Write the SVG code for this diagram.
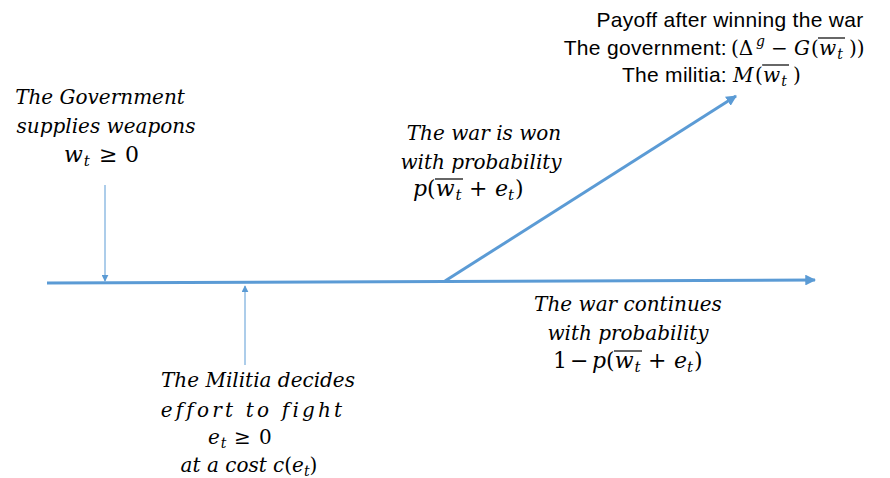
<svg xmlns="http://www.w3.org/2000/svg" width="890" height="478" viewBox="0 0 890 478">
<style>
.m{font-family:"DejaVu Serif","Liberation Serif",serif;font-style:italic;font-size:20px;fill:#000}
.x{font-size:22px}
.u{font-style:normal}
.sb{font-size:14px}
.sc{font-size:15px}
.s{font-family:"Liberation Sans",Arial,sans-serif;font-size:21px;letter-spacing:0.3px;fill:#000}
.ln{stroke:#5B9BD5;fill:none}
.ov{stroke:#000;stroke-width:1.2}
</style>
<defs>
<marker id="big" viewBox="0 0 10 10" refX="9" refY="5" markerWidth="3.6" markerHeight="3.6" orient="auto" markerUnits="strokeWidth">
<path d="M0,0 L10,5 L0,10 z" fill="#5B9BD5"/>
</marker>
<marker id="small" viewBox="0 0 10 10" refX="9" refY="5" markerWidth="7" markerHeight="7" orient="auto" markerUnits="strokeWidth">
<path d="M0,0 L10,5 L0,10 z" fill="#5B9BD5"/>
</marker>
</defs>
<g id="connectors">
<line class="ln" x1="47" y1="283" x2="815" y2="280" stroke-width="3" marker-end="url(#big)"/>
<line class="ln" x1="445" y1="281" x2="736" y2="96" stroke-width="3" marker-end="url(#big)"/>
<line class="ln" x1="105" y1="185" x2="105" y2="281" stroke-width="1" marker-end="url(#small)"/>
<line class="ln" x1="245" y1="365" x2="245" y2="286" stroke-width="1" marker-end="url(#small)"/>
</g>
<g id="payoff">
<text class="s" x="730" y="27" text-anchor="middle">Payoff after winning the war</text>
<text class="s" x="727" y="55" text-anchor="end">The government:</text>
<text class="m" y="55" font-size="21"><tspan class="u" x="731">(Δ</tspan><tspan class="sb" x="756" y="46">g</tspan><tspan class="u" x="771" y="55">−</tspan><tspan x="794">G</tspan><tspan class="u" x="811">(</tspan><tspan x="819">w</tspan><tspan class="sb" dx="1" dy="4">t</tspan><tspan class="u" x="849" y="55">))</tspan></text>
<line class="ov" x1="818" y1="38" x2="845" y2="38"/>
<text class="s" x="727" y="82" text-anchor="end">The militia:</text>
<text class="m" y="82" font-size="21"><tspan x="733">M</tspan><tspan class="u" x="755">(</tspan><tspan x="763">w</tspan><tspan class="sb" dx="1" dy="4">t</tspan><tspan class="u" x="793" y="82">)</tspan></text>
<line class="ov" x1="762" y1="65" x2="789" y2="65"/>
</g>
<g id="government">
<text class="m" x="100" y="104" text-anchor="middle">The Government</text>
<text class="m" x="106" y="133" text-anchor="middle">supplies weapons</text>
<text class="m x" y="162"><tspan x="64">w</tspan><tspan class="sc" dx="1" dy="4">t</tspan><tspan class="u" x="99" y="162">≥</tspan><tspan class="u" x="125">0</tspan></text>
</g>
<g id="won">
<text class="m" x="484" y="140" text-anchor="middle">The war is won</text>
<text class="m" x="481" y="169" text-anchor="middle">with probability</text>
<text class="m x" y="196"><tspan x="413">p</tspan><tspan class="u">(</tspan><tspan>w</tspan><tspan class="sc" dx="1" dy="4">t</tspan><tspan class="u" x="469" y="196">+</tspan><tspan x="495">e</tspan><tspan class="sc" dy="4">t</tspan><tspan class="u" dy="-4" dx="1">)</tspan></text>
<line class="ov" x1="435" y1="179" x2="463" y2="179"/>
</g>
<g id="continues">
<text class="m" x="628" y="311" text-anchor="middle">The war continues</text>
<text class="m" x="628" y="340" text-anchor="middle">with probability</text>
<text class="m x" y="368"><tspan class="u" x="553">1</tspan><tspan class="u" x="570">−</tspan><tspan x="592">p</tspan><tspan class="u">(</tspan><tspan>w</tspan><tspan class="sc" dx="1" dy="4">t</tspan><tspan class="u" x="648" y="368">+</tspan><tspan x="674">e</tspan><tspan class="sc" dy="4">t</tspan><tspan class="u" dy="-4" dx="1">)</tspan></text>
<line class="ov" x1="614" y1="351" x2="642" y2="351"/>
</g>
<g id="militia">
<text class="m" x="258" y="387" text-anchor="middle">The Militia decides</text>
<text class="m" x="253" y="417" text-anchor="middle" letter-spacing="3.2">effort to fight</text>
<text class="m" y="444" font-size="21"><tspan x="208">e</tspan><tspan class="sb" dx="1" dy="4">t</tspan><tspan class="u" x="234" y="444">≥</tspan><tspan class="u" x="259">0</tspan></text>
<text class="m" x="249" y="472" text-anchor="middle">at a cost c<tspan class="u">(</tspan>e<tspan class="sb" dy="4">t</tspan><tspan class="u" dy="-4">)</tspan></text>
</g>
</svg>
